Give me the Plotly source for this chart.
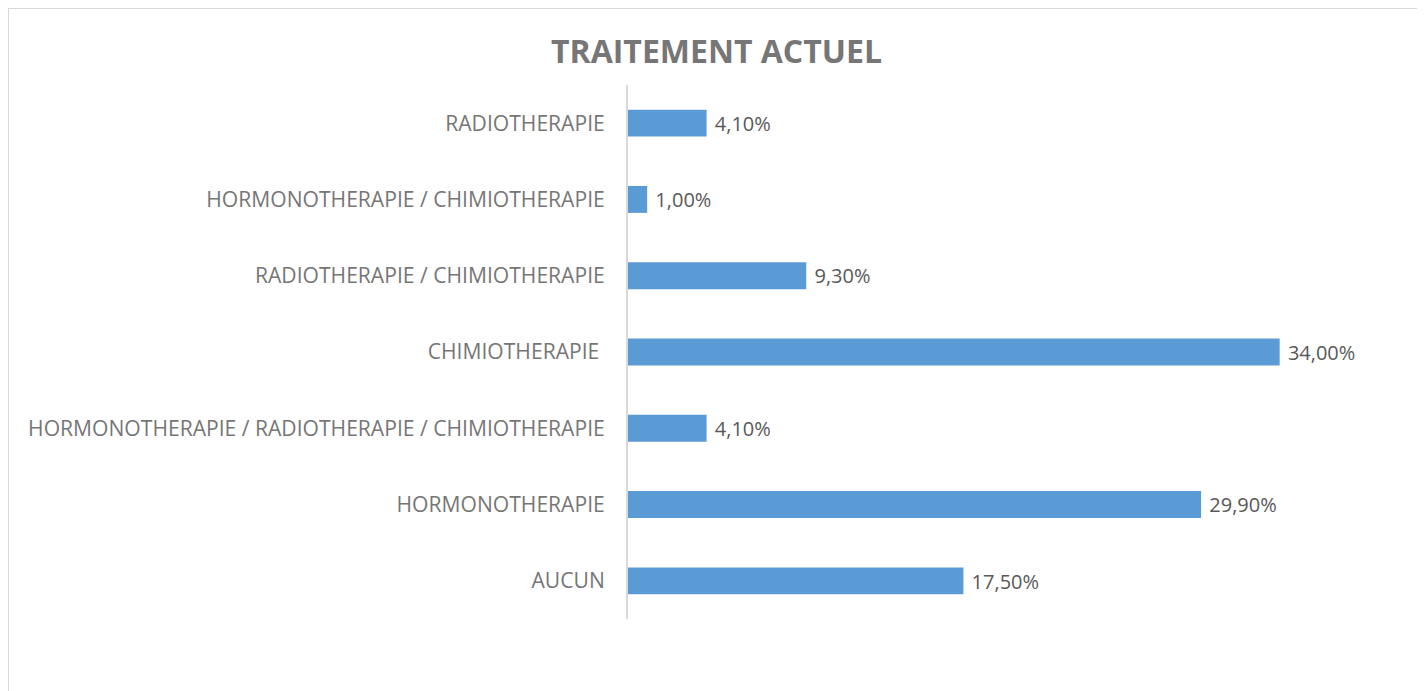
import plotly.graph_objects as go

# page body adds an 8px offset, so the figure is sized and placed for that
W, H = 1417, 683
OFF = 8

categories = [
    "AUCUN",
    "HORMONOTHERAPIE",
    "HORMONOTHERAPIE / RADIOTHERAPIE / CHIMIOTHERAPIE",
    "CHIMIOTHERAPIE ",
    "RADIOTHERAPIE / CHIMIOTHERAPIE",
    "HORMONOTHERAPIE / CHIMIOTHERAPIE",
    "RADIOTHERAPIE",
]
values = [17.5, 29.9, 4.1, 34.0, 9.3, 1.0, 4.1]
labels = ["\u00a0" + f"{v:.2f}".replace(".", ",") + "%" for v in values]

grey = "#767676"
dark = "#595959"
font = "'Open Sans', sans-serif"

fig = go.Figure(go.Bar(
    y=categories,
    x=values,
    orientation="h",
    marker=dict(color="#5B9BD5", line=dict(width=0)),
    text=labels,
    textposition="outside",
    textfont=dict(family=font, size=20.8, color=dark),
    cliponaxis=False,
    hoverinfo="skip",
))

# plot area in reference pixels, converted to figure fractions
x0, x1 = 628 - OFF, 1318 - OFF
ytop, ybot = 85 - OFF, 619 - OFF

fig.update_layout(
    width=W, height=H,
    margin=dict(l=0, r=0, t=0, b=0),
    paper_bgcolor="white",
    plot_bgcolor="white",
    bargap=0.647,
    showlegend=False,
    font=dict(family=font, color=grey),
    title=dict(
        text="<b>TRAITEMENT ACTUEL</b>",
        x=0.5, xanchor="center",
        y=1 - (52 - OFF) / H, yanchor="middle",
        font=dict(family=font, size=32, color=grey),
    ),
    xaxis=dict(
        domain=[x0 / W, x1 / W],
        range=[0, 36],
        visible=False,
    ),
    yaxis=dict(
        domain=[1 - ybot / H, 1 - ytop / H],
        automargin=False,
        showline=True,
        linecolor="#D9D9D9",
        linewidth=2,
        ticks="outside",
        ticklen=17,
        tickcolor="rgba(0,0,0,0)",
        tickfont=dict(family=font, size=21.1, color=grey),
        showgrid=False,
        zeroline=False,
    ),
    shapes=[dict(
        type="rect", xref="paper", yref="paper",
        x0=0, x1=(1419 - OFF) / W, y0=-0.05, y1=1,
        line=dict(color="#D9D9D9", width=2),
    )],
)

fig.write_html("out.html")
